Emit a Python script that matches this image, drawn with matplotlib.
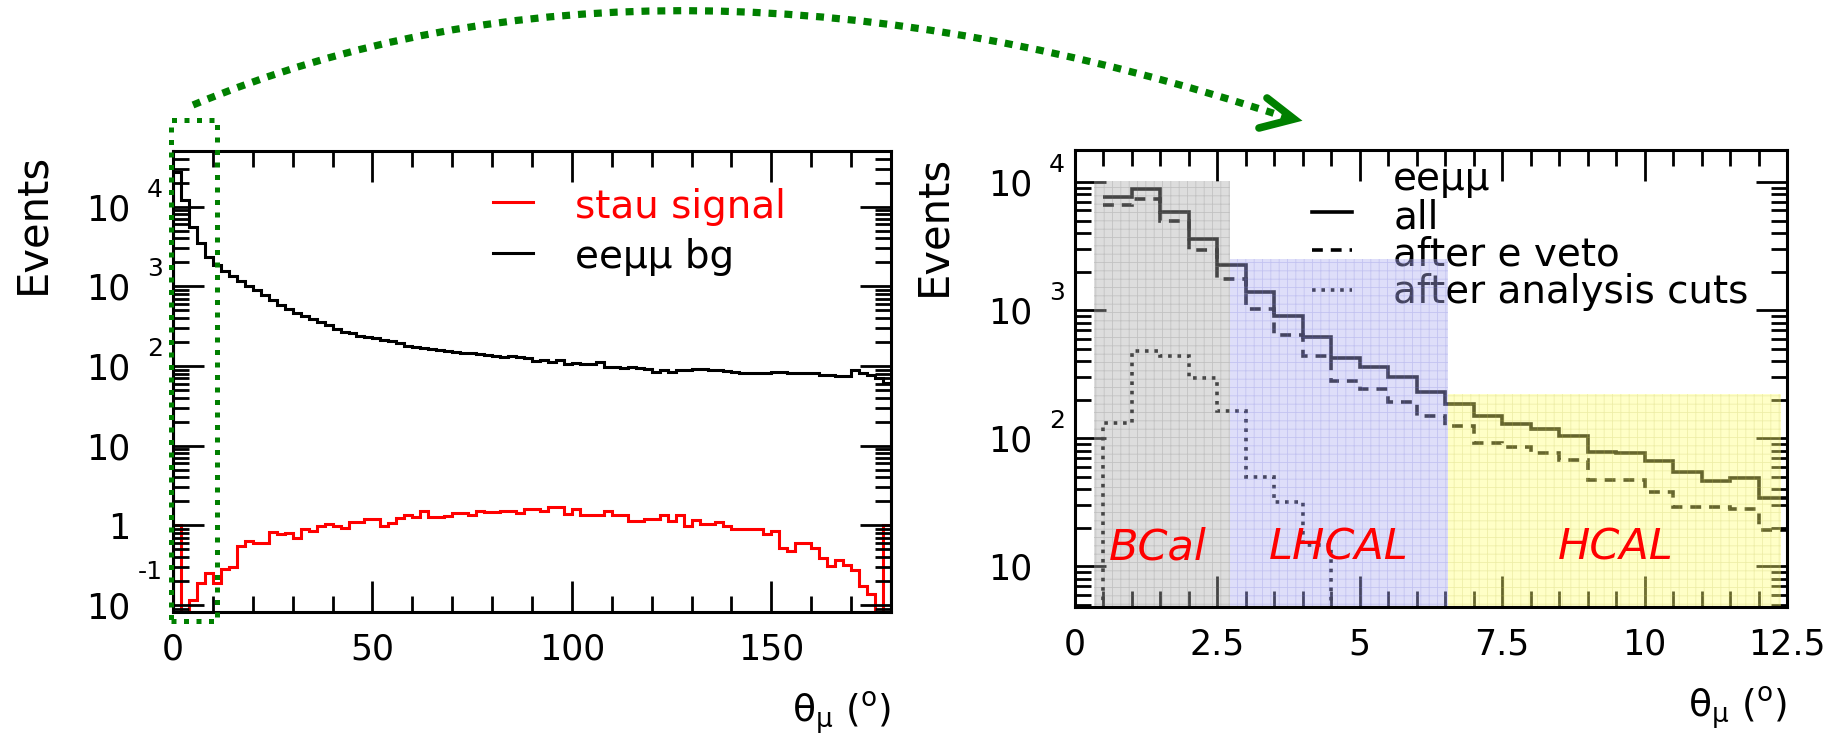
import numpy as np
import matplotlib
matplotlib.use('Agg')
import matplotlib.pyplot as plt
from matplotlib import transforms
from matplotlib.lines import Line2D
from matplotlib.patches import PathPatch, Rectangle
from matplotlib.path import Path
from matplotlib.ticker import LogLocator, MultipleLocator, NullFormatter

plt.rcParams['font.family'] = 'DejaVu Sans'
plt.rcParams['mathtext.fontset'] = 'dejavusans'
plt.rcParams['hatch.linewidth'] = 0.6

# full polar range, 2 degree bins
theta_edges = np.arange(0, 181, 2)
bg_eemumu = [27000, 12300, 5500, 3550, 2350, 1860, 1580, 1350, 1170, 1020,
             890, 780, 675, 590, 525, 470, 425, 390, 355, 325,
             295, 270, 257, 240, 229, 224, 214, 204, 195, 180,
             175, 170, 163, 158, 153, 150, 146, 147, 141, 139,
             132, 129, 135, 131, 126, 115, 120, 112, 120, 105,
             110, 107, 107, 112, 98, 97, 95, 96, 95, 93,
             85, 89, 85, 89, 90, 91, 91, 89, 89, 87,
             85, 83, 81, 81, 81, 85, 85, 83, 81, 83,
             81, 78, 77, 76, 75, 89, 83, 78, 71, 62]
stau_signal = [1.0, 0, 0.117, 0.19, 0.25, 0.19, 0.28, 0.30, 0.55, 0.635,
               0.605, 0.605, 0.82, 0.77, 0.80, 0.70, 0.89, 0.85, 0.98, 1.05,
               0.99, 0.93, 1.10, 1.10, 1.19, 1.19, 0.97, 1.08, 1.25, 1.37,
               1.29, 1.54, 1.29, 1.29, 1.33, 1.44, 1.44, 1.34, 1.54, 1.48,
               1.48, 1.54, 1.54, 1.44, 1.60, 1.60, 1.51, 1.70, 1.70, 1.41,
               1.60, 1.36, 1.36, 1.36, 1.51, 1.36, 1.36, 1.13, 1.13, 1.22,
               1.22, 1.36, 1.13, 1.36, 0.98, 1.17, 1.03, 1.03, 1.10, 0.98,
               0.89, 0.89, 0.89, 0.89, 0.785, 0.85, 0.525, 0.476, 0.605, 0.605,
               0.525, 0.39, 0.31, 0.37, 0.32, 0.275, 0.173, 0.136, 0, 1.0]

# forward region, 0.5 degree bins
fwd_edges = np.arange(0.5, 12.51, 0.5)
eemumu_all = [7650, 8800, 5800, 3580, 2250, 1380, 900, 615, 420, 360, 300, 230,
              185, 148, 128, 118, 104, 78, 76, 66, 54, 46, 49, 34]
eemumu_eveto = [6600, 7350, 4960, 2950, 1750, 1020, 635, 435, 280, 240, 190, 148,
                124, 91, 85, 76, 67, 47, 47, 38, 29, 29, 28, 19]
eemumu_cuts = [131, 480, 437, 294, 163, 50, 32, 14.6, 0, 0, 0, 0,
               0, 0, 0, 0, 0, 0, 0, 0, 0, 0, 0, 0]

# calorimeter coverage
regions = ['BCal', 'LHCAL', 'HCAL']
region_lo = [0.33, 2.72, 6.54]
region_hi = [2.72, 6.54, 12.4]
region_top = [1.02e4, 2500, 220]
region_label_x = [1.45, 4.63, 9.49]
region_label_y = 14
region_colors = [(0.675, 0.675, 0.675), (0.68, 0.68, 0.95), (1.0, 1.0, 0.45)]
region_grid = [(0.45, 0.45, 0.45, 0.25), (0.45, 0.45, 0.85, 0.25), (0.75, 0.75, 0.3, 0.25)]

W, H = 1845, 748
green = '#008000'

fig = plt.figure(figsize=(W / 100, H / 100), dpi=100)
ax1 = fig.add_axes([173 / W, (H - 612) / H, 718 / W, 461 / H])
ax2 = fig.add_axes([1075 / W, (H - 607) / H, 712 / W, 457 / H])


def style_axes(ax):
    for s in ax.spines.values():
        s.set_linewidth(2.2)
        s.set_zorder(4)
    ax.tick_params(which='both', direction='in', top=True, right=True, width=2.0, labelsize=25)
    ax.tick_params(which='major', length=22)
    ax.tick_params(which='minor', length=11.5)
    ax.tick_params(axis='x', pad=15)
    ax.tick_params(axis='y', pad=31)


def decade_labels(ax, decades):
    ax.set_yticks([10.0 ** n for n in decades])
    ax.set_yticklabels(['1' if n == 0 else '10' for n in decades])
    ax.yaxis.set_minor_locator(LogLocator(base=10, subs=np.arange(2, 10), numticks=30))
    ax.yaxis.set_minor_formatter(NullFormatter())
    for n in decades:
        if n in (0, 1):
            continue
        off = transforms.offset_copy(ax.get_yaxis_transform(), fig=fig, x=-10,
                                     y=17 if n > 0 else 33, units='dots')
        ax.text(0, 10.0 ** n, str(n), transform=off, ha='right', va='center', fontsize=18)


xlabel = r'$\mathregular{\theta_{\mu}\ (^{o})}$'

# ---- left: full range ----
ax1.set_yscale('log')
ax1.stairs(bg_eemumu, theta_edges, baseline=1e-3, color='black', lw=2.2)
ax1.stairs(np.where(np.array(stau_signal) > 0, stau_signal, 1e-3), theta_edges,
           baseline=1e-3, color='red', lw=2.2)
ax1.set_xlim(0, 180)
ax1.set_ylim(0.082, 5.0e4)
ax1.set_xticks([0, 50, 100, 150])
ax1.xaxis.set_minor_locator(MultipleLocator(10))
style_axes(ax1)
decade_labels(ax1, [-1, 0, 1, 2, 3, 4])
ax1.set_xlabel(xlabel, fontsize=27, loc='right', labelpad=16)
ax1.set_ylabel('Events', fontsize=30, loc='top')
ax1.yaxis.set_label_coords(-0.167, 0.995)

ax1.plot([0.446, 0.501], [0.889, 0.889], color='red', lw=2.2, transform=ax1.transAxes)
ax1.text(0.560, 0.855, 'stau signal', color='red', fontsize=28, transform=ax1.transAxes)
ax1.plot([0.446, 0.501], [0.779, 0.779], color='black', lw=2.2, transform=ax1.transAxes)
ax1.text(0.560, 0.746, 'eeμμ bg', color='black', fontsize=28, transform=ax1.transAxes)

# ---- right: forward region ----
ax2.set_yscale('log')
ax2.stairs(eemumu_all, fwd_edges, baseline=None, color='black', lw=2.6)
ax2.stairs(eemumu_eveto, fwd_edges, baseline=None, color='black', lw=2.6,
           linestyle=(0, (3.0, 2.2)))
ax2.stairs(np.where(np.array(eemumu_cuts) > 0, eemumu_cuts, 1), fwd_edges, baseline=1,
           color='black', lw=2.6, linestyle=(0, (1.0, 1.6)))
ax2.set_xlim(0, 12.5)
ax2.set_ylim(4.8, 1.78e4)
ax2.set_xticks([0, 2.5, 5, 7.5, 10, 12.5])
ax2.set_xticklabels(['0', '2.5', '5', '7.5', '10', '12.5'])
ax2.xaxis.set_minor_locator(MultipleLocator(0.5))
style_axes(ax2)
decade_labels(ax2, [1, 2, 3, 4])
ax2.set_xlabel(xlabel, fontsize=27, loc='right', labelpad=16)
ax2.set_ylabel('Events', fontsize=30, loc='top')
ax2.yaxis.set_label_coords(-0.169, 0.99)

ax2.text(0.447, 0.912, 'eeμμ', fontsize=28, transform=ax2.transAxes, zorder=1)
for yl, yt, txt, ls in [(0.864, 0.829, 'all', '-'),
                        (0.781, 0.748, 'after e veto', (0, (3.0, 2.2))),
                        (0.694, 0.665, 'after analysis cuts', (0, (1.0, 1.6)))]:
    ax2.plot([0.333, 0.389], [yl, yl], color='black', lw=2.6, ls=ls, transform=ax2.transAxes)
    ax2.text(0.447, yt, txt, fontsize=28, transform=ax2.transAxes, zorder=1)

for name, lo, hi, top, lx, fc, gc in zip(regions, region_lo, region_hi, region_top,
                                        region_label_x, region_colors, region_grid):
    ax2.add_patch(Rectangle((lo, 1), hi - lo, top - 1, facecolor=fc, edgecolor='none',
                            alpha=0.4, zorder=3))
    ax2.add_patch(Rectangle((lo, 1), hi - lo, top - 1, facecolor='none', edgecolor=gc,
                            lw=0, hatch='++', zorder=3))
    ax2.text(lx, region_label_y, name, color='red', fontsize=31, style='italic',
             ha='center', va='center', zorder=5)

# ---- zoom marker and arrow between the panels ----
box_tr = transforms.blended_transform_factory(ax1.transData, ax1.transAxes)
ax1.add_patch(Rectangle((-0.5, -0.0195), 11.5, 1.0865, transform=box_tr, fill=False,
                        edgecolor=green, lw=3.6, ls=(0, (1, 1.5)), clip_on=False, zorder=6))

px = transforms.Affine2D().scale(1 / W, -1 / H).translate(0, 1) + fig.transFigure
arc = Path([(193, 105), (660, -90), (1288, 118)], [Path.MOVETO, Path.CURVE3, Path.CURVE3])
fig.add_artist(PathPatch(arc, transform=px, fill=False, edgecolor=green, lw=5.2,
                         ls=(0, (1.1, 1.1)), capstyle='butt'))
fig.add_artist(Line2D([1267, 1294, 1259], [98, 119, 128], transform=px, color=green,
                      lw=5.5, solid_capstyle='round', solid_joinstyle='miter'))

fig.savefig('out.png', dpi=100)
